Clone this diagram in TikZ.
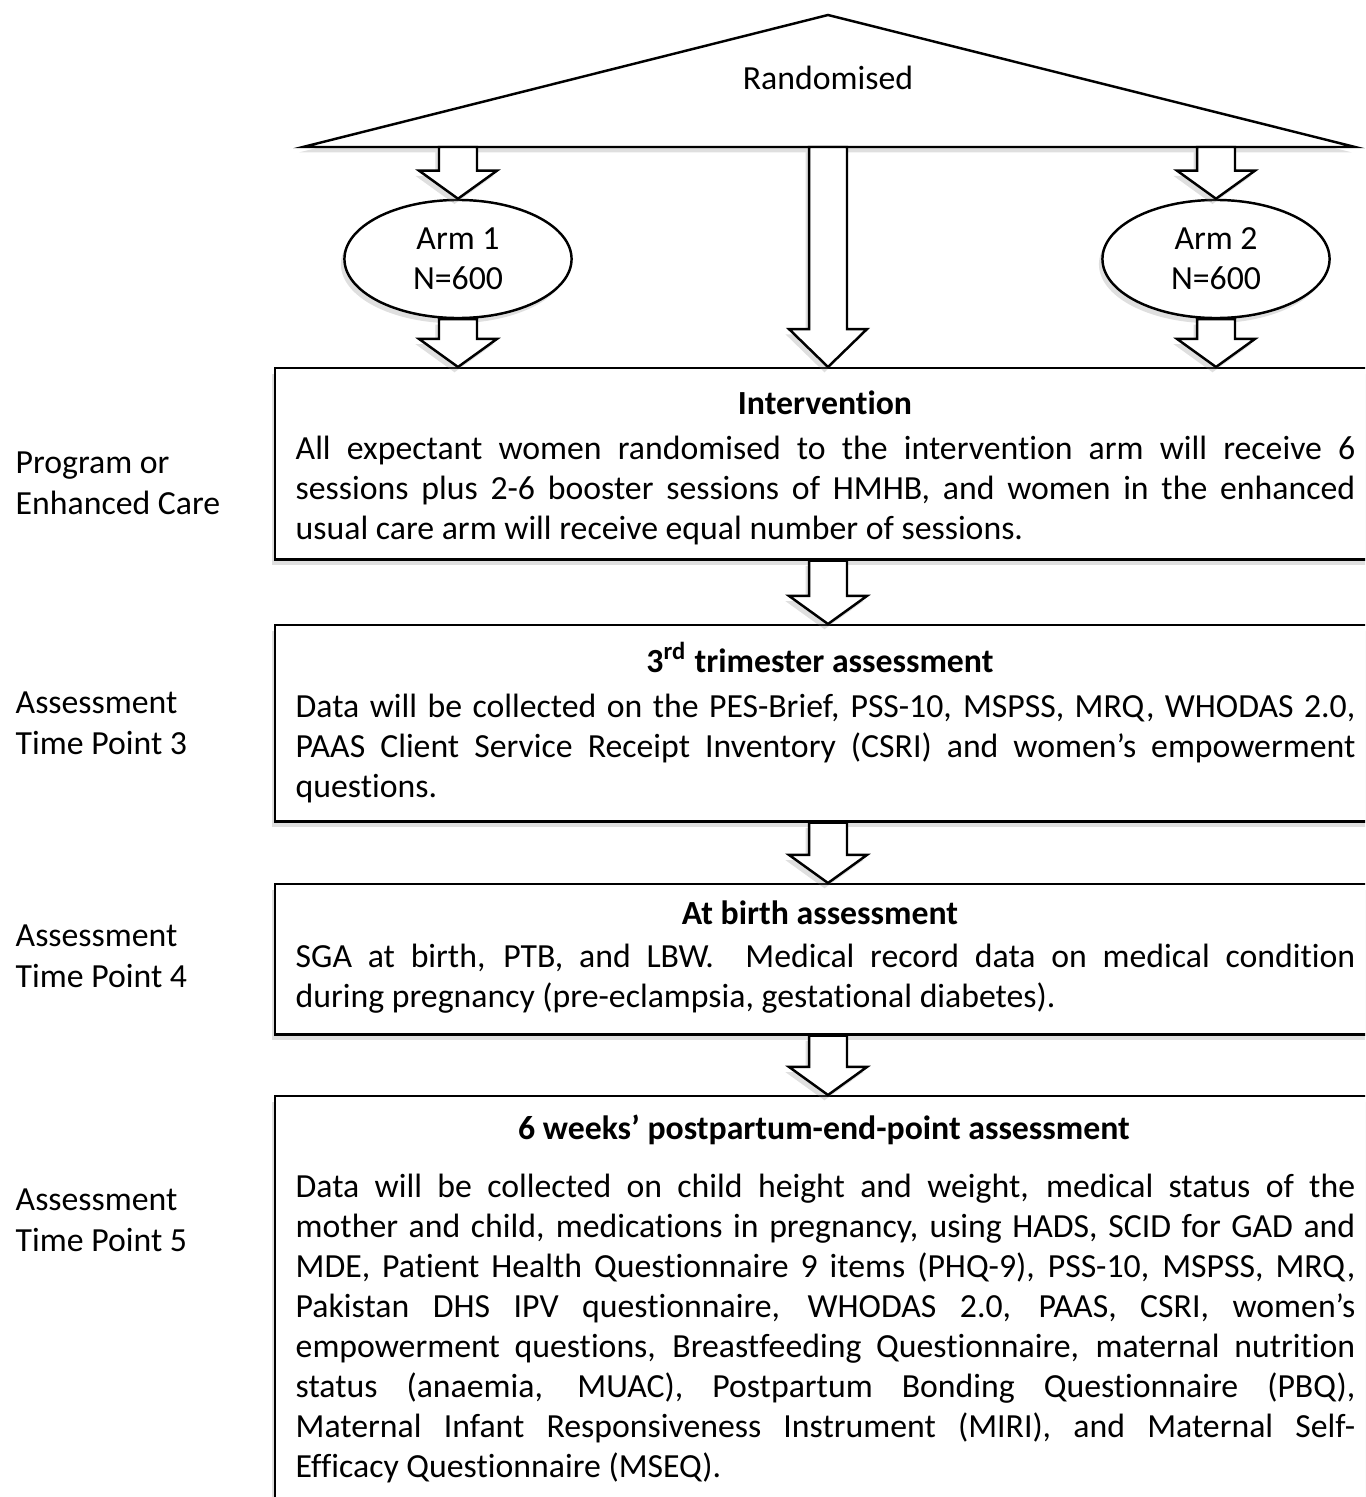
\documentclass[tikz,border=0pt]{standalone}
\usepackage{fontspec}
\setmainfont{Carlito}[Ligatures=TeX, RawFeature={-liga;-clig;-calt;-dlig}]
\usetikzlibrary{calc,shapes.geometric,shadows}
\hbadness=10000
\tikzset{
  softshadow/.style={drop shadow={shadow xshift=-1pt, shadow yshift=-1.5pt, opacity=.25}},
  outline/.style={draw, line width=0.7pt, fill=white, softshadow},
  box/.style={outline, anchor=north west, minimum width=11.08cm, inner sep=0pt},
  armnode/.style={outline, ellipse, minimum width=2.27cm, minimum height=1.18cm, inner sep=0pt, align=center},
  blockarr/.style={outline, line join=miter},
  boxtitle/.style={anchor=base, inner sep=0pt, font=\fontsize{9.6}{11.4}\selectfont\bfseries},
  boxbody/.style={anchor=base west, inner sep=0pt, text width=10.59cm, align=justify},
  sidelabel/.style={anchor=base west, inner sep=0pt, align=left}
}
% hollow downward arrow from one named point to another
\newcommand{\blockarrow}[3][8pt]{%
  \draw[blockarr] let \p1=(#2), \p2=(#3) in
    (\x1-5.4pt,\y1) -- (\x1-5.4pt,\y2+#1) -- (\x1-11.1pt,\y2+#1) -- (\x1,\y2)
    -- (\x1+11.1pt,\y2+#1) -- (\x1+5.4pt,\y2+#1) -- (\x1+5.4pt,\y1) -- cycle;}

\begin{document}
\begin{tikzpicture}[x=0.01cm, y=-0.01cm, font=\fontsize{9.6}{11.4}\selectfont]
  \useasboundingbox (0,0) rectangle (1365,1497);
  \clip (0,0) rectangle (1365,1497);

  %%%%% randomisation %%%%%
  \coordinate (tl) at (303,147);
  \coordinate (tp) at (828,15);
  \coordinate (tr) at (1355,147);
  \draw[outline] (tl) -- (tp) -- (tr) -- cycle;
  \node[anchor=base] (rand) at (828,90) {Randomised};
  \coordinate (mid) at (828,0);

  \node[armnode] (arm1) at (458,259) {Arm 1\\N=600};
  \node[armnode] (arm2) at (1216,259) {Arm 2\\N=600};

  %%%%% boxes %%%%%
  \node[box, minimum height=1.91cm] (intv) at (274,367) {};
  \node[box, minimum height=1.96cm] (third) at (274,624) {};
  \node[box, minimum height=1.50cm] (birth) at (274,883) {};
  \node[box, minimum height=4.40cm] (post) at (274,1095) {};

  %%%%% arrows %%%%%
  \blockarrow{arm1.north |- tl}{arm1.north}
  \blockarrow{arm2.north |- tl}{arm2.north}
  \blockarrow{arm1.south}{arm1.south |- intv.north}
  \blockarrow{arm2.south}{arm2.south |- intv.north}
  \blockarrow[10.8pt]{mid |- tl}{mid |- intv.north}
  \blockarrow{mid |- intv.south}{mid |- third.north}
  \blockarrow{mid |- third.south}{mid |- birth.north}
  \blockarrow{mid |- birth.south}{mid |- post.north}

  %%%%% texts %%%%%
  \node[boxtitle] (intvttl) at (825,414) {Intervention};
  \node[boxbody] (intvtxt) at (295,459) {All expectant women randomised to the intervention arm will receive 6\linebreak
    sessions plus 2-6 booster sessions of HMHB, and women in the enhanced\linebreak
    usual care arm will receive equal number of sessions.};

  \node[boxtitle] (thirdttl) at (820,672) {3\textsuperscript{\scriptsize rd} trimester assessment};
  \node[boxbody] (thirdtxt) at (295,717) {Data will be collected on the PES-Brief, PSS-10, MSPSS, MRQ, WHODAS 2.0,\linebreak
    PAAS Client Service Receipt Inventory (CSRI) and women’s empowerment\linebreak
    questions.};

  \node[boxtitle] (birthttl) at (820,924) {At birth assessment};
  \node[boxbody] (birthtxt) at (295,967) {SGA at birth, PTB, and LBW.\ \ Medical record data on medical condition\linebreak
    during pregnancy (pre-eclampsia, gestational diabetes).};

  \node[boxtitle] (postttl) at (824,1139) {6 weeks’ postpartum-end-point assessment};
  \node[boxbody] (posttxt) at (295,1197) {Data will be collected on child height and weight, medical status of the\linebreak
    mother and child, medications in pregnancy, using HADS, SCID for GAD and\linebreak
    MDE, Patient Health Questionnaire 9 items (PHQ-9), PSS-10, MSPSS, MRQ,\linebreak
    Pakistan DHS IPV questionnaire, WHODAS 2.0, PAAS, CSRI, women’s\linebreak
    empowerment questions, Breastfeeding Questionnaire, maternal nutrition\linebreak
    status (anaemia, MUAC), Postpartum Bonding Questionnaire (PBQ),\linebreak
    Maternal Infant Responsiveness Instrument (MIRI), and Maternal Self-\linebreak
    Efficacy Questionnaire (MSEQ).};

  %%%%% time points %%%%%
  \node[sidelabel] (tp1) at (15,514) {Program or\\Enhanced Care};
  \node[sidelabel] (tp3) at (15,754) {Assessment\\Time Point 3};
  \node[sidelabel] (tp4) at (15,987) {Assessment\\Time Point 4};
  \node[sidelabel] (tp5) at (15,1251) {Assessment\\Time Point 5};
\end{tikzpicture}
\end{document}
